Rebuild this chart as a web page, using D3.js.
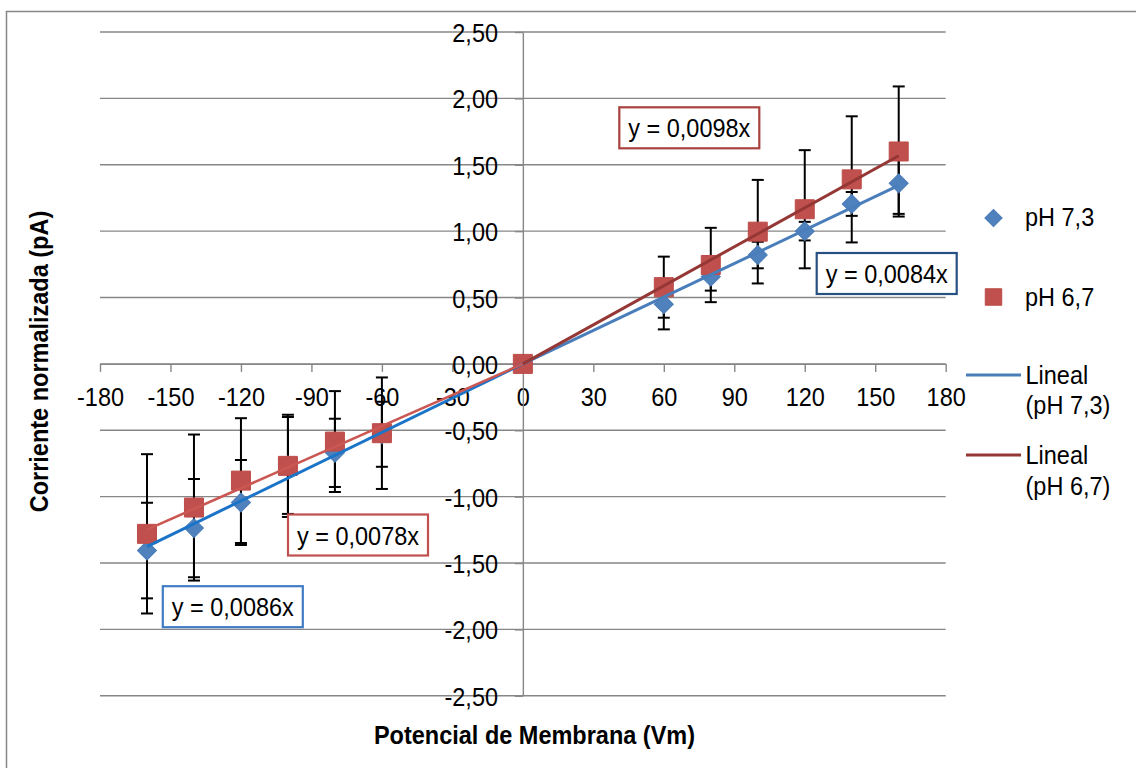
<!DOCTYPE html>
<html><head><meta charset="utf-8">
<script src="https://cdn.jsdelivr.net/npm/d3@7"></script>
<style>html,body{margin:0;padding:0;background:#fff;} svg{display:block;}</style>
</head><body>
<svg id="chart" width="1136" height="768"></svg>
<script>
// ---- data ----
const voltages = [-160, -140, -120, -100, -80, -60, 0, 60, 80, 100, 120, 140, 160];
const ph73     = [-1.406, -1.237, -1.044, -0.765, -0.670, -0.530, 0, 0.450, 0.657, 0.820, 1.000, 1.205, 1.360];
const ph73Err  = [0.36, 0.37, 0.32, 0.365, 0.257, 0.245, 0, 0.19, 0.105, 0.10, 0.07, 0.09, 0.23];
const ph67     = [-1.280, -1.082, -0.879, -0.768, -0.585, -0.522, 0, 0.578, 0.745, 0.996, 1.165, 1.390, 1.600];
const ph67Err  = [0.60, 0.55, 0.47, 0.385, 0.38, 0.42, 0, 0.23, 0.28, 0.39, 0.445, 0.475, 0.49];
const seriesNames = ["pH 7,3", "pH 6,7"];
const trendNames  = [["Lineal", "(pH 7,3)"], ["Lineal", "(pH 6,7)"]];
const slopes73 = [0.0086, 0.0084];   // negative branch, positive branch
const slopes67 = [0.0078, 0.0098];
const xTicks = [-180, -150, -120, -90, -60, -30, 0, 30, 60, 90, 120, 150, 180];
const yTicks = [-2.5, -2.0, -1.5, -1.0, -0.5, 0, 0.5, 1.0, 1.5, 2.0, 2.5];
const xTitle = "Potencial de Membrana (Vm)";
const yTitle = "Corriente normalizada (pA)";

// ---- styles ----
const FONT = '"Liberation Sans", Arial, sans-serif';
const FS = 26.5, SX = 0.887;
const GRID = '#878787';
const BLUE = '#4F81BD', RED = '#C0504D';

const svg = d3.select('#chart');
svg.append('rect').attr('width', 1136).attr('height', 768).attr('fill', '#fff');
svg.append('rect').attr('x', 6.5).attr('y', 11.5).attr('width', 1200).attr('height', 800)
  .attr('fill', 'none').attr('stroke', GRID).attr('stroke-width', 1.5);

const x = d3.scaleLinear().domain([-180, 180]).range([100, 945.7]);
const y = d3.scaleLinear().domain([-2.5, 2.5]).range([695.8, 32]);
const fmtY = v => d3.format('.2f')(v).replace('.', ',').replace('\u2212', '-');

function txt(g, px, py, s, opt = {}) {
  return g.append('text')
    .attr('transform', `translate(${px},${py})${opt.rotate ? ' rotate(' + opt.rotate + ')' : ''} scale(${SX},1)`)
    .attr('font-family', FONT).attr('font-size', opt.size || FS)
    .attr('font-weight', opt.bold ? 'bold' : 'normal')
    .attr('text-anchor', opt.anchor || 'start').attr('fill', '#000').text(s);
}

// gridlines
svg.append('g').selectAll('line').data(yTicks).join('line')
  .attr('x1', x(-180)).attr('x2', x(180))
  .attr('y1', d => y(d)).attr('y2', d => y(d))
  .attr('stroke', GRID).attr('stroke-width', 1.4);

// x axis (crosses at y = 0)
const gx = svg.append('g').attr('transform', `translate(0,${y(0)})`)
  .call(d3.axisBottom(x).tickValues(xTicks).tickSize(8).tickSizeOuter(0).tickFormat(d => String(d)));
gx.select('.domain').attr('stroke', GRID).attr('stroke-width', 1.4);
gx.selectAll('.tick line').attr('stroke', GRID).attr('stroke-width', 1.4);
gx.selectAll('text').attr('y', 42.5).attr('dy', null).attr('fill', '#000')
  .attr('font-size', FS).attr('font-family', FONT).attr('transform', `scale(${SX},1)`);

// y axis (crosses at x = 0)
const gy = svg.append('g').attr('transform', `translate(${x(0)},0)`)
  .call(d3.axisLeft(y).tickValues(yTicks).tickSize(8).tickSizeOuter(0).tickFormat(fmtY));
gy.select('.domain').attr('stroke', GRID).attr('stroke-width', 1.4);
gy.selectAll('.tick line').attr('stroke', GRID).attr('stroke-width', 1.4);
gy.selectAll('text').attr('x', -28).attr('dy', '0.36em').attr('fill', '#000')
  .attr('font-size', FS).attr('font-family', FONT).attr('transform', `scale(${SX},1)`);

// error bars
const errG = svg.append('g').attr('stroke', '#000').attr('stroke-width', 2);
function errorBars(vals, errs) {
  const d = voltages.map((v, i) => ({ v, c: vals[i], e: errs[i] })).filter(o => o.e > 0);
  const g = errG.append('g');
  g.selectAll('.stem').data(d).join('line').attr('class', 'stem')
    .attr('x1', o => x(o.v)).attr('x2', o => x(o.v))
    .attr('y1', o => y(o.c + o.e)).attr('y2', o => y(o.c - o.e));
  [1, -1].forEach(sgn => {
    g.selectAll('.cap' + sgn).data(d).join('line').attr('class', 'cap' + sgn)
      .attr('x1', o => x(o.v) - 6).attr('x2', o => x(o.v) + 6)
      .attr('y1', o => y(o.c + sgn * o.e)).attr('y2', o => y(o.c + sgn * o.e));
  });
}
errorBars(ph73, ph73Err);
errorBars(ph67, ph67Err);

// markers
svg.append('g').selectAll('path').data(voltages.map((v, i) => [v, ph73[i]])).join('path')
  .attr('d', d3.symbol(d3.symbolSquare, 180)())
  .attr('transform', d => `translate(${x(d[0])},${y(d[1])}) rotate(45)`)
  .attr('fill', BLUE).attr('stroke', '#4A7CB8').attr('stroke-width', 1);
svg.append('g').selectAll('path').data(voltages.map((v, i) => [v, ph67[i]])).join('path')
  .attr('d', d3.symbol(d3.symbolSquare, 361)())
  .attr('transform', d => `translate(${x(d[0])},${y(d[1])})`)
  .attr('fill', RED).attr('stroke', '#BD4C49').attr('stroke-width', 1);

// trendlines (through origin, fitted separately on each branch)
const xMin = d3.min(voltages), xMax = d3.max(voltages);
function trend(slope, x0, x1, color, w) {
  svg.append('line').attr('x1', x(x0)).attr('y1', y(slope * x0))
    .attr('x2', x(x1)).attr('y2', y(slope * x1))
    .attr('stroke', color).attr('stroke-width', w);
}
trend(slopes73[0], xMin, 0, '#1C74C8', 3);
trend(slopes73[1], 0, xMax, '#4A7EBB', 3);
trend(slopes67[0], xMin, 0, '#CB5753', 2.6);
trend(slopes67[1], 0, xMax, '#953735', 3);

// equation labels
const eqBoxes = [
  { slope: slopes67[1], cx: 689.3, cy: 127.8, stroke: '#A9423F' },
  { slope: slopes73[1], cx: 886.7, cy: 273.5, stroke: '#264F82' },
  { slope: slopes67[0], cx: 358.0, cy: 535.0, stroke: '#C0504D' },
  { slope: slopes73[0], cx: 232.8, cy: 606.7, stroke: '#3F7CC4' }
];
const eqG = svg.append('g');
eqBoxes.forEach(b => {
  eqG.append('rect').attr('x', b.cx - 70).attr('y', b.cy - 20.5).attr('width', 140).attr('height', 41)
    .attr('fill', '#fff').attr('stroke', b.stroke).attr('stroke-width', 2.2);
  txt(eqG, b.cx, b.cy + 9.5, 'y = ' + b.slope.toFixed(4).replace('.', ',') + 'x', { anchor: 'middle' });
});

// legend
const lg = svg.append('g');
lg.append('path').attr('d', d3.symbol(d3.symbolSquare, 150)())
  .attr('transform', 'translate(993.5,218) rotate(45)').attr('fill', BLUE).attr('stroke', '#4A7CB8');
txt(lg, 1025, 225.5, seriesNames[0]);
lg.append('path').attr('d', d3.symbol(d3.symbolSquare, 272)())
  .attr('transform', 'translate(993.5,297)').attr('fill', RED).attr('stroke', '#BD4C49');
txt(lg, 1025, 305.5, seriesNames[1]);
lg.append('line').attr('x1', 966).attr('x2', 1021).attr('y1', 375).attr('y2', 375)
  .attr('stroke', '#4A7EBB').attr('stroke-width', 3);
txt(lg, 1025.5, 383.5, trendNames[0][0]);
txt(lg, 1025.5, 414, trendNames[0][1]);
lg.append('line').attr('x1', 966).attr('x2', 1021).attr('y1', 455).attr('y2', 455)
  .attr('stroke', '#953735').attr('stroke-width', 3);
txt(lg, 1025.5, 464, trendNames[1][0]);
txt(lg, 1025.5, 495, trendNames[1][1]);

// axis titles
txt(svg, 534.5, 744, xTitle, { anchor: 'middle', bold: true });
txt(svg, 47.5, 361.5, yTitle, { anchor: 'middle', bold: true, rotate: -90 });
</script>
</body></html>
